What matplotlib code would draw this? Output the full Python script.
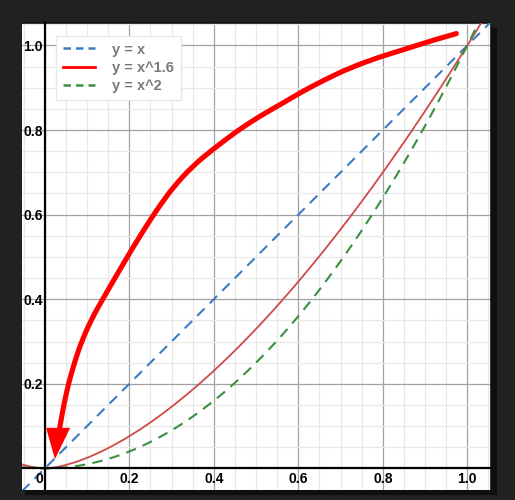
import numpy as np
import matplotlib
matplotlib.use("Agg")
import matplotlib.pyplot as plt
from matplotlib.lines import Line2D
from matplotlib.patches import Rectangle, PathPatch
from matplotlib.path import Path

# ---- data ----
x_range = [-0.054, 1.056]
y_range = [-0.051, 1.053]
x_ticks = [0, 0.2, 0.4, 0.6, 0.8, 1.0]
x_tick_labels = ["", "0.2", "0.4", "0.6", "0.8", "1.0"]
origin_label = "0"
y_ticks = [0.2, 0.4, 0.6, 0.8, 1.0]
y_tick_labels = ["0.2", "0.4", "0.6", "0.8", "1.0"]
series_labels = ["y = x", "y = x^1.6", "y = x^2"]
exponents = [1.0, 1.6, 2.0]

# hand-drawn red arrow stroke
stroke_x = [0.974, 0.919, 0.840, 0.793, 0.722, 0.667, 0.611, 0.564, 0.509,
            0.454, 0.400, 0.351, 0.304, 0.272, 0.2525, 0.225, 0.197, 0.166,
            0.138, 0.1105, 0.087, 0.071, 0.055, 0.043, 0.036, 0.034]
stroke_y = [1.028, 1.0125, 0.987, 0.973, 0.947, 0.921, 0.892, 0.864, 0.833,
            0.797, 0.756, 0.716, 0.665, 0.621, 0.592, 0.549, 0.503, 0.450,
            0.402, 0.353, 0.300, 0.253, 0.197, 0.140, 0.100, 0.088]
head_x = [0.003, 0.060, 0.024]
head_y = [0.096, 0.096, 0.022]

FONT = ["Liberation Sans", "DejaVu Sans"]
TICK_SIZE = 10

# ---- figure ----
W, H = 515, 500
fig = plt.figure(figsize=(W / 100, H / 100), dpi=100, facecolor="#212121")
l, r, t, b = 22, 491, 23, 490
ax = fig.add_axes([l / W, 1 - b / H, (r - l) / W, (b - t) / H])
ax.set_facecolor("white")

# shadow behind panel
fig.patches.append(Rectangle(((l + 3) / W, 1 - (b + 5) / H), (r - l + 3) / W, (b - t) / H,
                             transform=fig.transFigure, facecolor="#0f0f0f",
                             edgecolor="none", zorder=-5))

# spines first (set_position resets ticks)
for side in ["left", "bottom"]:
    ax.spines[side].set_position(("data", 0))
    ax.spines[side].set_color("black")
    ax.spines[side].set_linewidth(1.6)
    ax.spines[side].set_zorder(4)
for side in ["top", "right"]:
    ax.spines[side].set_color("#111111")
    ax.spines[side].set_linewidth(1.2)

ax.set_xlim(*x_range)
ax.set_ylim(*y_range)

xs = np.linspace(x_range[0], x_range[1], 400)
colors = ["#3b7dc2", "#cf4a48", "#3a8f40"]
styles = [(0, (5, 3.5)), "-", (0, (5, 3.5))]
widths = [1.5, 1.3, 1.5]
for p, c, s, w in zip(exponents, colors, styles, widths):
    ys = xs if p == 1 else np.abs(xs) ** p
    ax.plot(xs, ys, color=c, linestyle=s, lw=w, zorder=3)

# annotation stroke (smoothed path through the read points) and head
pts = np.column_stack([stroke_x, stroke_y])
verts = [pts[0]]
codes = [Path.MOVETO]
for i in range(1, len(pts) - 1):
    verts += [pts[i], (pts[i] + pts[i + 1]) / 2]
    codes += [Path.CURVE3, Path.CURVE3]
verts.append(pts[-1])
codes.append(Path.LINETO)
ax.add_patch(PathPatch(Path(verts, codes), facecolor="none", edgecolor="#ff0000",
                       lw=3.7, capstyle="round", joinstyle="round", zorder=5))
ax.fill(head_x, head_y, color="#ff0000", zorder=5, lw=0)

# grid
ax.set_xticks(np.arange(-0.05, 1.06, 0.05), minor=True)
ax.set_yticks(np.arange(-0.05, 1.06, 0.05), minor=True)
ax.set_xticks(x_ticks)
ax.set_yticks(y_ticks)
ax.grid(which="minor", color="#e8e8e8", lw=0.9, zorder=0)
ax.grid(which="major", color="#a2a2a2", lw=0.9, zorder=0)
ax.set_axisbelow(True)

ax.tick_params(which="both", length=0, labelsize=TICK_SIZE)
ax.tick_params(axis="x", pad=2.5)
ax.tick_params(axis="y", pad=1.5)
ax.set_xticklabels(x_tick_labels, fontweight="bold", fontsize=TICK_SIZE, family=FONT)
ax.set_yticklabels(y_tick_labels, fontweight="bold", fontsize=TICK_SIZE, family=FONT)
ax.annotate(origin_label, xy=(0, 0), xytext=(-4, -2.5), textcoords="offset points",
            ha="center", va="top", fontweight="bold", fontsize=TICK_SIZE, family=FONT)

handles = [Line2D([], [], color=colors[0], ls=(0, (3, 2)), lw=1.8),
           Line2D([], [], color="#ff0000", ls="-", lw=2.0),
           Line2D([], [], color=colors[2], ls=(0, (3, 2)), lw=1.8)]
leg = ax.legend(handles, series_labels, loc="upper left",
                bbox_to_anchor=((56 - l) / (r - l), 1 - (36 - t) / (b - t)),
                borderaxespad=0, frameon=True, fancybox=False,
                prop={"family": FONT, "weight": "bold", "size": 10.5},
                labelcolor="#7a7a7a", handlelength=2.2, handletextpad=1.2,
                labelspacing=0.3, borderpad=0.45)
leg.get_frame().set_edgecolor("#e6e6e6")
leg.get_frame().set_linewidth(1.0)
leg.get_frame().set_alpha(1)
leg.set_zorder(6)

fig.savefig("out.png", dpi=100, facecolor=fig.get_facecolor())
